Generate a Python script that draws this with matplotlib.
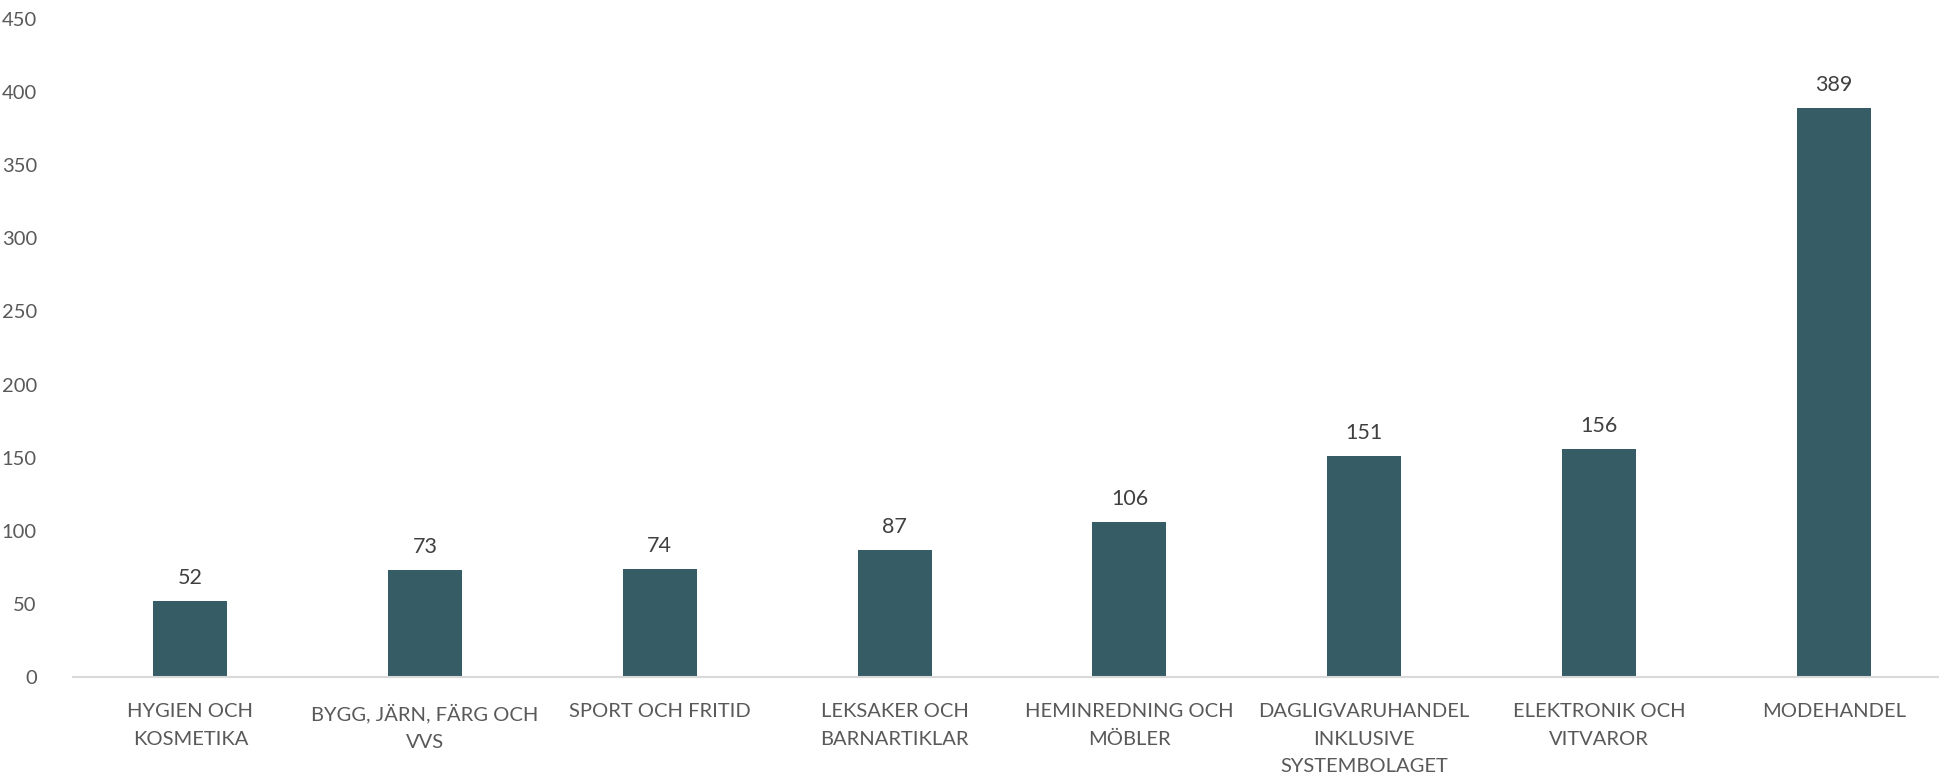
import matplotlib.pyplot as plt
import numpy as np

# Data
categories = ['HYGIEN OCH\nKOSMETIKA', 'BYGG, JÄRN, FÄRG OCH\nVVS', 'SPORT OCH FRITID',
              'LEKSAKER OCH\nBARNARTIKLAR', 'HEMINREDNING OCH\nMÖBLER',
              'DAGLIGVARUHANDEL\nINKLUSIVE\nSYSTEMBOLAGET', 'ELEKTRONIK OCH\nVITVAROR', 'MODEHANDEL']
values = [52, 73, 74, 87, 106, 151, 156, 389]
yticks = [0, 50, 100, 150, 200, 250, 300, 350, 400, 450]

plt.rcParams['font.family'] = ['Lato', 'DejaVu Sans']

W, H = 1939, 777
fig = plt.figure(figsize=(W / 100, H / 100), dpi=100)
# axes spans a bit past the right edge, like the original
ax = fig.add_axes([73 / W, (H - 677) / H, (1951 - 73) / W, 658 / H])

x = np.arange(len(categories))
bars = ax.bar(x, values, width=0.315, color='#365C66', zorder=2)

for xi, v in zip(x, values):
    ax.annotate(str(v), (xi, v), xytext=(0, 13), textcoords='offset pixels',
                ha='center', va='bottom', fontsize=15.5, color='#404040')

ax.set_xlim(-0.5, len(categories) - 0.5)
ax.set_ylim(0, 450)
ax.set_yticks(yticks)
ax.set_xticks(x)
ax.set_xticklabels(categories, fontsize=14.5, color='#595959', linespacing=1.75, va='top')
ax.tick_params(axis='y', length=0, pad=26, labelsize=14.5, labelcolor='#595959')
ax.tick_params(axis='x', length=0, pad=19)

for s in ['top', 'right', 'left']:
    ax.spines[s].set_visible(False)
ax.spines['bottom'].set_color('#D9D9D9')
ax.spines['bottom'].set_linewidth(1.5)

fig.savefig('out.png', dpi=100)
